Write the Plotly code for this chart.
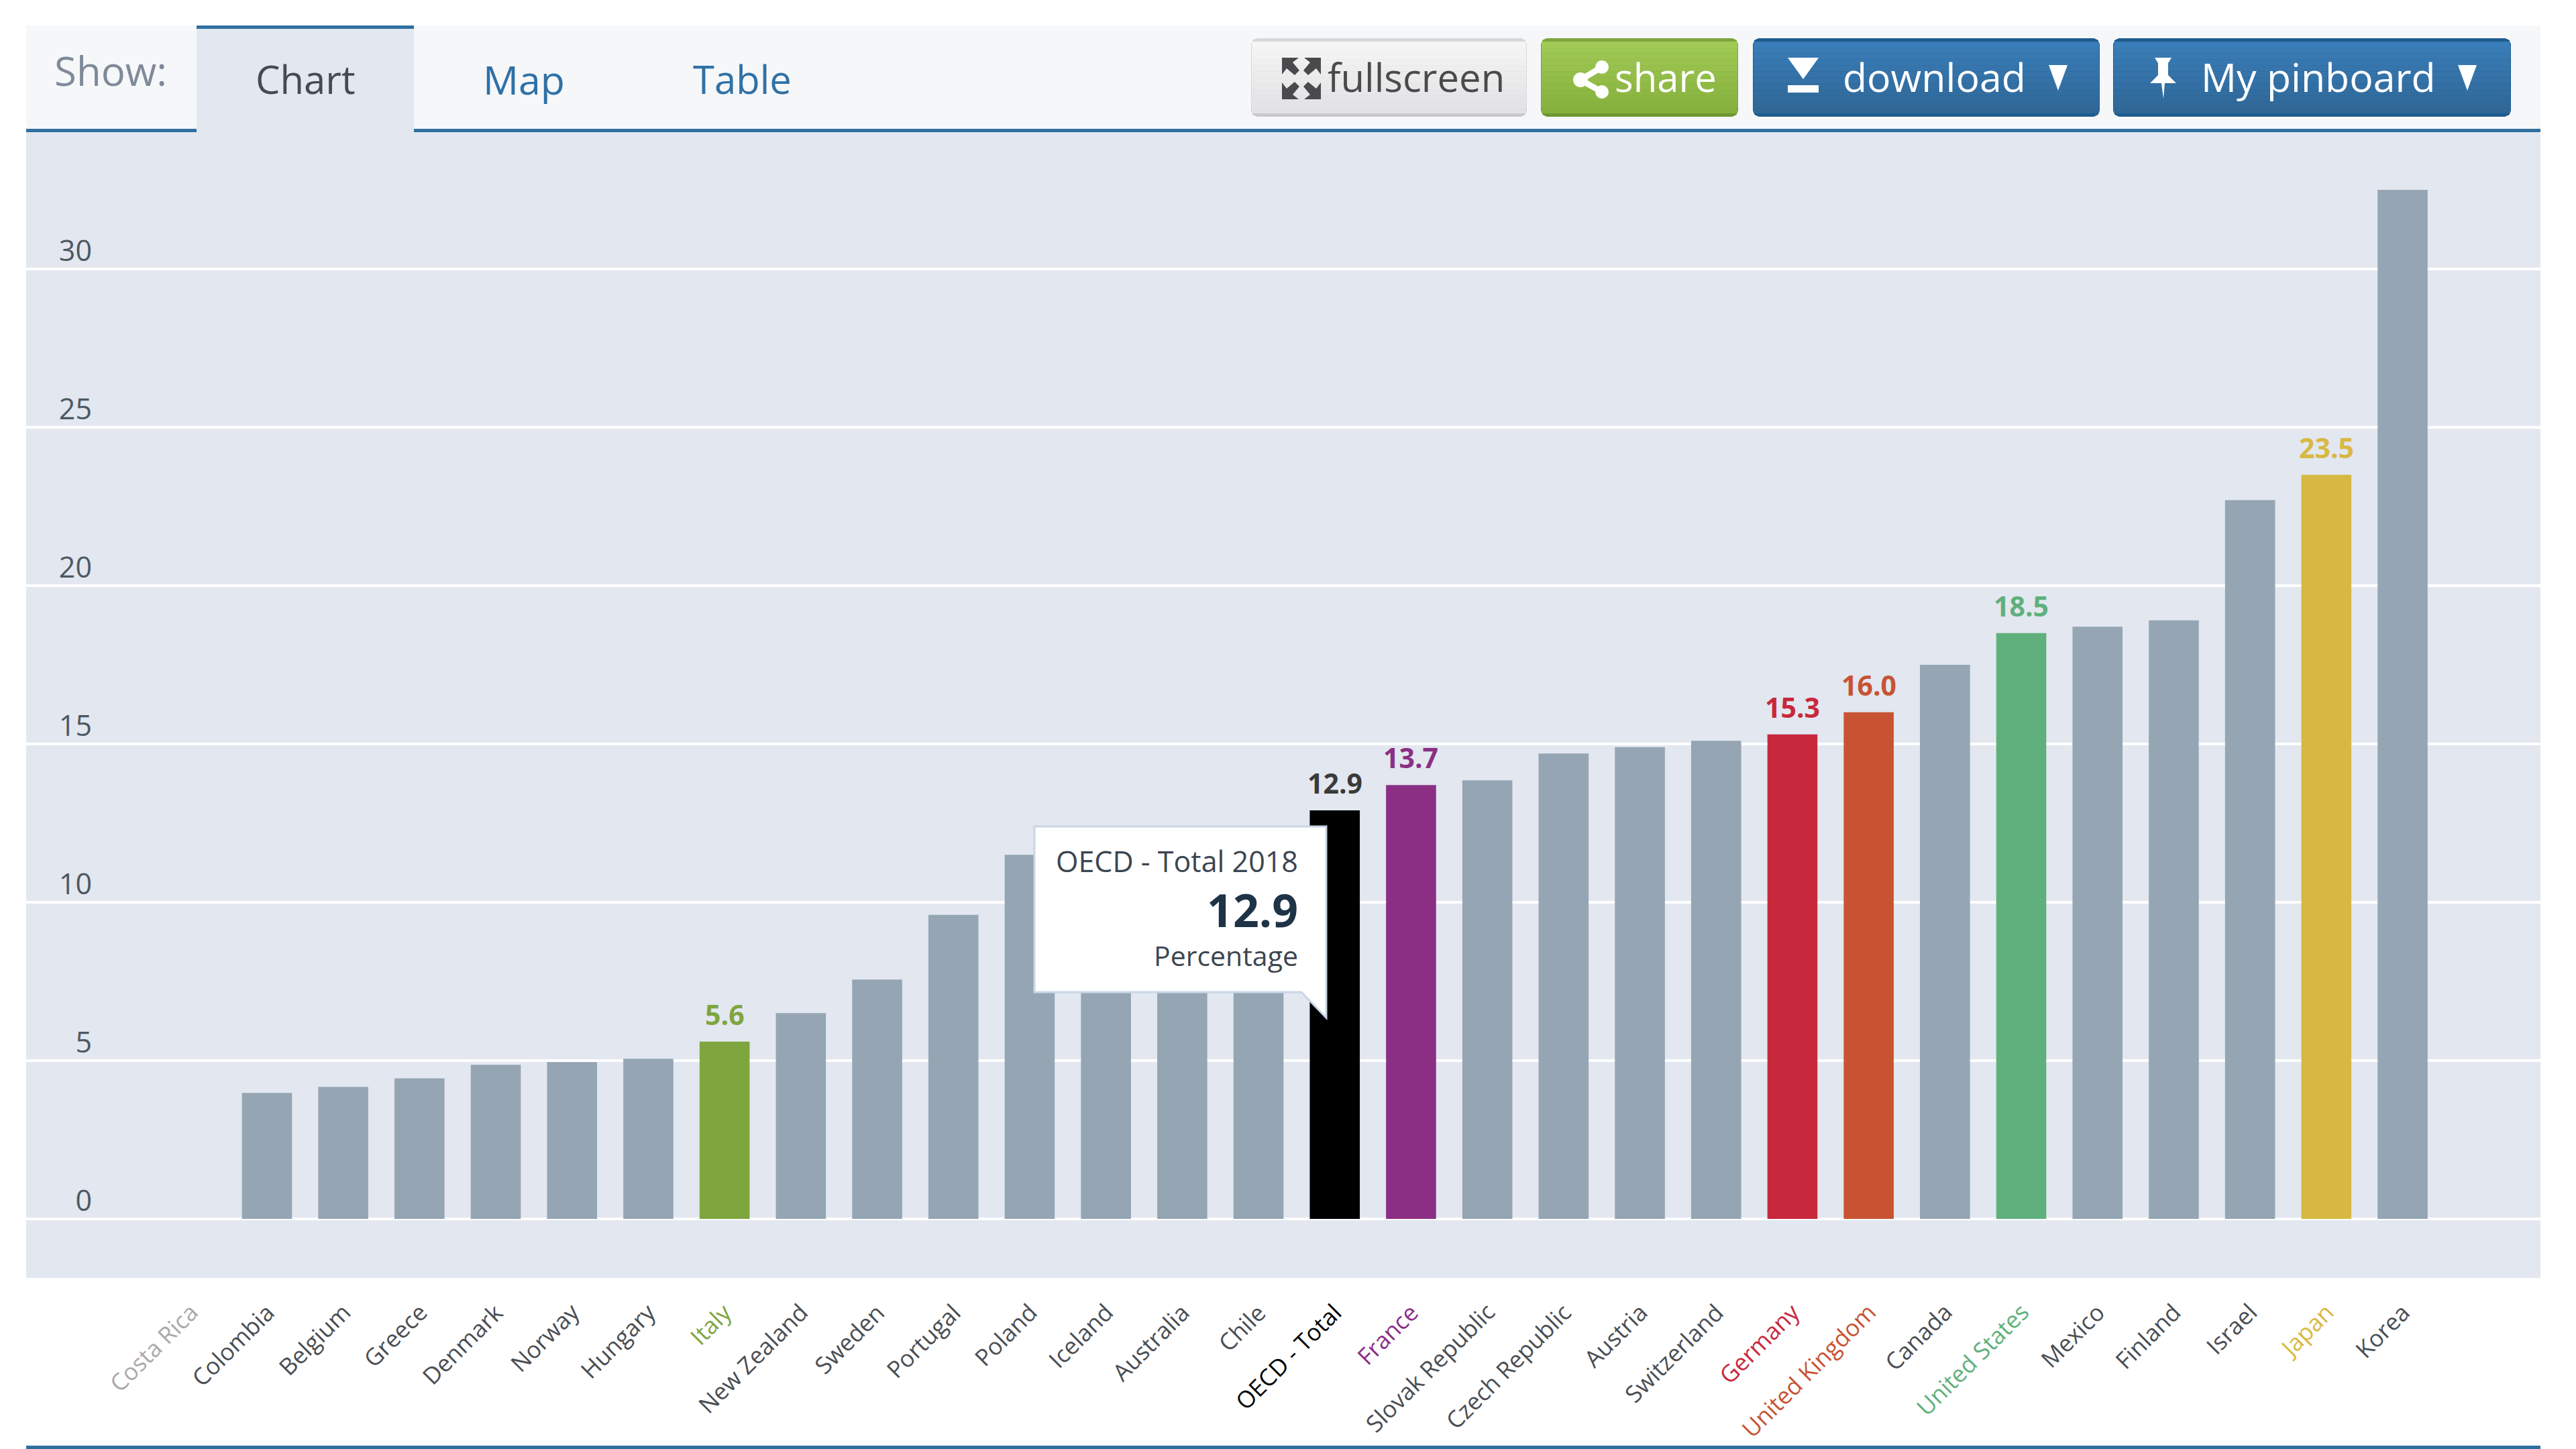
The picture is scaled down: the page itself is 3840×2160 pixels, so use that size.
import plotly.graph_objects as go

# ---- data ----
countries = ["Costa Rica", "Colombia", "Belgium", "Greece", "Denmark", "Norway", "Hungary", "Italy",
             "New Zealand", "Sweden", "Portugal", "Poland", "Iceland", "Australia", "Chile", "OECD - Total",
             "France", "Slovak Republic", "Czech Republic", "Austria", "Switzerland", "Germany",
             "United Kingdom", "Canada", "United States", "Mexico", "Finland", "Israel", "Japan", "Korea"]
values = [None, 3.98, 4.17, 4.44, 4.87, 4.95, 5.06, 5.6,
          6.5, 7.56, 9.6, 11.5, 11.6, 11.9, 12.4, 12.9,
          13.7, 13.85, 14.7, 14.9, 15.1, 15.3,
          16.0, 17.5, 18.5, 18.7, 18.9, 22.7, 23.5, 32.5]
y_ticks = [0, 5, 10, 15, 20, 25, 30]
highlight = ["Italy", "OECD - Total", "France", "Germany", "United Kingdom", "United States", "Japan"]
highlight_colors = ["#7fa53f", "#000000", "#8b2f85", "#c8283c", "#c85333", "#5fb07c", "#d8b843"]

# ---- style ----
W, H = 3840, 2160
FONT = "Open Sans"
BAR = "#95a5b3"
BAND = "#e2e7f0"
BLUE = "#2f6f9f"
color_of = dict(zip(highlight, highlight_colors))
color_of["Costa Rica"] = "#a9a9ad"


def fx(p):
    return p / W


def fy(p):
    return 1 - p / H


shapes = []


def rect(x0, y0, x1, y1, fill, line=None, lw=0):
    shapes.append(dict(type="rect", xref="paper", yref="paper", x0=fx(x0), x1=fx(x1), y0=fy(y0), y1=fy(y1),
                       fillcolor=fill, line=dict(color=line or fill, width=lw), layer="above"))


def poly(points, fill, close=True):
    d = "M " + " L ".join(f"{fx(a):.5f},{fy(b):.5f}" for a, b in points) + (" Z" if close else "")
    shapes.append(dict(type="path", xref="paper", yref="paper", path=d, fillcolor=fill,
                       line=dict(width=0), layer="above"))


def rounded(x0, y0, x1, y1, r, fill, line=None, lw=0):
    pts = [(x0 + r, y0), (x1 - r, y0), (x1 - r * .3, y0 + r * .3), (x1, y0 + r), (x1, y1 - r),
           (x1 - r * .3, y1 - r * .3), (x1 - r, y1), (x0 + r, y1), (x0 + r * .3, y1 - r * .3), (x0, y1 - r),
           (x0, y0 + r), (x0 + r * .3, y0 + r * .3)]
    d = "M " + " L ".join(f"{fx(a):.5f},{fy(b):.5f}" for a, b in pts) + " Z"
    shapes.append(dict(type="path", xref="paper", yref="paper", path=d, fillcolor=fill,
                       line=dict(color=line or fill, width=lw), layer="above"))


def hex2(c):
    return [int(c[i:i + 2], 16) for i in (1, 3, 5)]


def button(x0, x1, top, bottom, edge_top, edge_bottom):
    y0, y1 = 57, 174
    rounded(x0, y0, x1, y1, 9, edge_bottom)
    rounded(x0, y0, x1, y1 - 5, 9, edge_top)
    n = 12
    a, b = hex2(top), hex2(bottom)
    for i in range(n):
        t = i / (n - 1)
        c = "#%02x%02x%02x" % tuple(round(a[k] + (b[k] - a[k]) * t) for k in range(3))
        ya = y0 + 5 + (y1 - y0 - 10) * i / n
        yb = y0 + 5 + (y1 - y0 - 10) * (i + 1) / n
        rect(x0 + 1, ya, x1 - 1, yb, c)


# header background and chrome
rect(39, 38, 3787, 192, "#f6f7f9")
rect(39, 192, 3787, 197, BLUE)
rect(293, 38, 617, 197, BAND)
rect(293, 38, 617, 43, BLUE)
rect(39, 2155, 3787, 2160, BLUE)

button(1865, 2276, "#f5f5f5", "#e2e2e4", "#d8d8da", "#c8c8ca")
button(2297, 2591, "#a0ca55", "#86b03c", "#7ea53a", "#6f9632")
button(2613, 3130, "#3a7db8", "#2f6797", "#1f5c8e", "#1f5c8e")
button(3150, 3743, "#3a7db8", "#2f6797", "#1f5c8e", "#1f5c8e")

# fullscreen icon
DK = "#4a4a4c"
for sx, sy in [(1911, 86), (1969, 86), (1911, 148), (1969, 148)]:
    dx = 1 if sx == 1911 else -1
    dy = 1 if sy == 86 else -1
    poly([(sx, sy), (sx + 25 * dx, sy), (sx + 16 * dx, sy + 7 * dy), (sx + 26 * dx, sy + 19 * dy),
          (sx + 19 * dx, sy + 26 * dy), (sx + 7 * dx, sy + 16 * dy), (sx, sy + 25 * dy)], DK)

# share icon
WHITE = "#ffffff"
for (cx, cy, r) in [(2356, 119, 11), (2388, 100, 10), (2388, 137, 10)]:
    shapes.append(dict(type="circle", xref="paper", yref="paper", x0=fx(cx - r), x1=fx(cx + r),
                       y0=fy(cy + r), y1=fy(cy - r), fillcolor=WHITE, line=dict(width=0), layer="above"))
poly([(2354, 115), (2386, 96), (2390, 104), (2358, 123)], WHITE)
poly([(2358, 115), (2390, 133), (2386, 141), (2354, 123)], WHITE)

# download icon
poly([(2665, 86), (2711, 86), (2688, 118)], WHITE)
rect(2665, 127, 2711, 138, WHITE)

# pin icon
poly([(3212, 86), (3237, 86), (3232, 94), (3232, 112), (3244, 124), (3205, 124), (3217, 112), (3217, 94)], WHITE)
poly([(3222, 124), (3227, 124), (3225, 147)], WHITE)

# dropdown arrows
poly([(3054, 97), (3082, 97), (3068, 135)], WHITE)
poly([(3664, 97), (3692, 97), (3678, 135)], WHITE)

# tooltip
poly([(1542, 1232), (1977, 1232), (1977, 1517), (1940, 1479), (1542, 1479)], "#ffffff")
shapes[-1]["line"] = dict(color="#c9d6e6", width=3)


def label(text, x, y, size, color, anchor="center", bold=False):
    return dict(text=f"<b>{text}</b>" if bold else text, x=fx(x), y=fy(y), xref="paper", yref="paper",
                showarrow=False, xanchor=anchor, yanchor="middle",
                font=dict(family=FONT, size=size, color=color))


annotations = [
    label("Show:", 165, 105, 60, "#7f8a99"),
    label("Chart", 455, 118, 58, "#444b53"),
    label("Map", 781, 118, 59, "#2f71a6"),
    label("Table", 1106, 118, 58, "#2f71a6"),
    label("fullscreen", 2111, 114, 58, "#4a4a4c"),
    label("share", 2483, 114, 58, "#ffffff"),
    label("download", 2883, 114, 59, "#ffffff"),
    label("My pinboard", 3456, 114, 59, "#ffffff"),
    label("OECD - Total 2018", 1937, 1283, 43, "#3c4650", anchor="right"),
    label("12.9", 1937, 1355, 68, "#1f3346", anchor="right", bold=True),
    label("Percentage", 1937, 1424, 41, "#3c4650", anchor="right"),
]

# value labels above the highlighted bars
for name, color in zip(highlight, highlight_colors):
    v = values[countries.index(name)]
    annotations.append(dict(text=f"<b>{v:.1f}</b>", x=name, y=v, xref="x", yref="y", showarrow=False,
                            xanchor="center", yanchor="bottom", yshift=11,
                            font=dict(family=FONT, size=41, color="#3a3a3a" if name == "OECD - Total" else color)))

# rotated category labels
for c in countries:
    annotations.append(dict(text=c, x=c, y=fy(1930), xref="x", yref="paper", showarrow=False,
                            xanchor="right", yanchor="top", xshift=23, textangle=-45,
                            font=dict(family=FONT, size=35, color=color_of.get(c, "#4a4e53"))))

fig = go.Figure(go.Bar(
    x=countries, y=values, width=0.656,
    marker=dict(color=[color_of.get(c, BAR) if c in highlight else BAR for c in countries], line=dict(width=0)),
    hoverinfo="skip",
))

fig.update_layout(
    width=W, height=H, margin=dict(l=0, r=0, t=0, b=0, pad=0),
    paper_bgcolor="#ffffff", plot_bgcolor=BAND, showlegend=False,
    font=dict(family=FONT),
    shapes=shapes, annotations=annotations,
    xaxis=dict(domain=[fx(39), fx(3787)], range=[-2.157, 30.807], type="category",
               categoryorder="array", categoryarray=countries,
               showticklabels=False, ticks="",
               showgrid=False, showline=False, zeroline=False, automargin=False, fixedrange=True),
    yaxis=dict(domain=[fy(1905), fy(197)], range=[-1.864, 34.32], anchor="free", position=fx(140), side="right",
               tickmode="array", tickvals=y_ticks, ticktext=[str(t) for t in y_ticks],
               ticklabelposition="inside top", ticklabelshift=3,
               tickfont=dict(family=FONT, size=43, color="#4e5862"),
               ticks="", showline=False, showgrid=True, gridcolor="#ffffff", gridwidth=4,
               zeroline=True, zerolinecolor="#ffffff", zerolinewidth=4, automargin=False, fixedrange=True),
)

fig.write_html("out.html", config={"displayModeBar": False},
               post_script="document.body.style.margin='0';document.body.style.overflow='hidden';")
